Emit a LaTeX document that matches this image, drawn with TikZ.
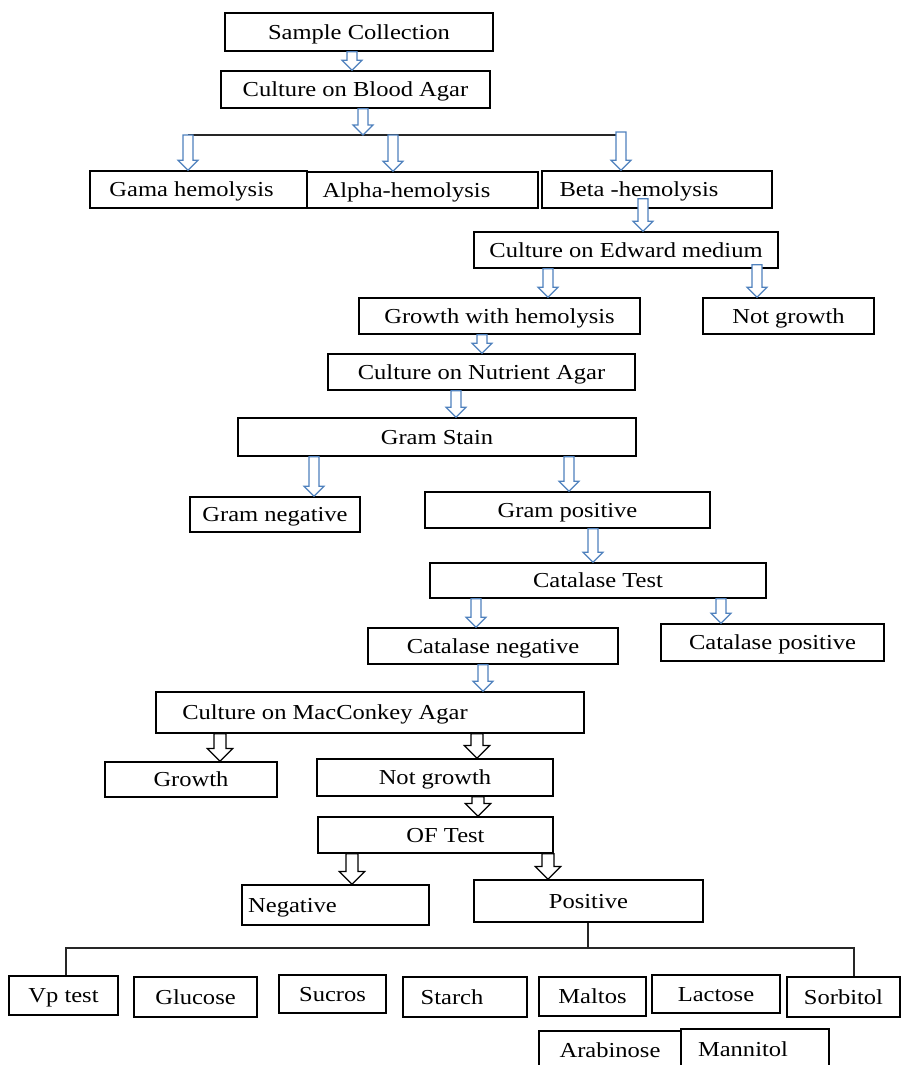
\documentclass[tikz,border=0pt]{standalone}
\usepackage{fontspec}
\setmainfont{Liberation Serif}[FakeStretch=1.15]
\usetikzlibrary{calc}
\definecolor{arrblue}{RGB}{79,129,189}
\tikzset{
  box/.style={draw, line width=1.2pt, fill=white, inner sep=0pt, text height=10.6pt, text depth=0pt, font=\fontsize{16}{19}\selectfont},
  bluearr/.style={draw=arrblue, line width=0.9pt, fill=white},
  blackarr/.style={draw=black, line width=0.9pt, fill=white},
  link/.style={draw=black!85, line width=1.2pt}
}
\newcommand\bx[7][0pt]{\node[box, minimum width={0.75pt*(#5-#3)}, minimum height={0.75pt*(#6-#4)}] (#2) at ({(#3+#5)/2},{(#4+#6)/2}) {\hspace*{#1}#7};}
\newcommand\blockarr[5]{\draw[#1] let \p1=(#2), \p2=(#3) in (\x1-#4,\y1) -- (\x1-#4,\y2+#5) -- (\x1-#5,\y2+#5) -- (\x1,\y2) -- (\x1+#5,\y2+#5) -- (\x1+#4,\y2+#5) -- (\x1+#4,\y1) -- cycle;}
\newcommand\barr[2]{\blockarr{bluearr}{#1}{#2}{3.75pt}{7.5pt}}
\newcommand\karr[2]{\blockarr{blackarr}{#1}{#2}{4.5pt}{9.5pt}}
\begin{document}
\begin{tikzpicture}[x=0.75pt,y=-0.75pt]
\useasboundingbox (0,0) rectangle (901,1065);
\clip (0,0) rectangle (901,1065);
% boxes
\bx{sample}{225}{13}{493}{51}{Sample Collection}
\bx{blood}{221}{71}{490}{108}{Culture on Blood Agar}
\bx[-10.5pt]{gama}{90}{171}{307}{208}{Gama hemolysis}
\bx[-24pt]{alpha}{307}{172}{538}{208}{Alpha-hemolysis}
\bx[-27pt]{beta}{542}{171}{772}{208}{Beta -hemolysis}
\bx{edward}{474}{232}{778}{268}{Culture on Edward medium}
\bx{gwh}{359}{298}{640}{334}{Growth with hemolysis}
\bx{ngone}{703}{298}{874}{334}{Not growth}
\bx{nutrient}{328}{354}{635}{390}{Culture on Nutrient Agar}
\bx{gram}{238}{418}{636}{456}{Gram Stain}
\bx{gneg}{190}{497}{360}{532}{Gram negative}
\bx{gpos}{425}{492}{710}{528}{Gram positive}
\bx{catalase}{430}{563}{766}{598}{Catalase Test}
\bx{cneg}{368}{628}{618}{664}{Catalase negative}
\bx{cpos}{661}{624}{884}{661}{Catalase positive}
\bx[-67.5pt]{mac}{156}{692}{584}{733}{Culture on MacConkey Agar}
\bx{growth}{105}{762}{277}{797}{Growth}
\bx{ngtwo}{317}{759}{553}{796}{Not growth}
\bx[15pt]{of}{318}{817}{553}{853}{OF Test}
\bx[-64.5pt]{neg}{242}{885}{429}{925}{Negative}
\bx{pos}{474}{880}{703}{922}{Positive}
\bx{vp}{9}{976}{118}{1015}{Vp test}
\bx{glu}{134}{977}{257}{1017}{Glucose}
\bx{suc}{279}{975}{386}{1013}{Sucros}
\bx[-19.5pt]{sta}{403}{977}{527}{1017}{Starch}
\bx{mal}{539}{977}{646}{1016}{Maltos}
\bx{lac}{652}{975}{780}{1013}{Lactose}
\bx{sor}{787}{977}{900}{1017}{Sorbitol}
\bx{ara}{539}{1031}{681}{1070}{Arabinose}
\bx[-18pt]{man}{681}{1029}{829}{1070}{Mannitol}
% split under blood agar
\coordinate (split) at (363,135);
\draw[link] (split -| 188,0) -- (split -| 621,0);
% blue arrows
\barr{sample.south -| 352,0}{blood.north -| 352,0}
\barr{blood.south -| 363,0}{split}
\barr{split -| 188,0}{gama.north -| 188,0}
\barr{split -| 393,0}{alpha.north -| 393,0}
\barr{$(split -| 621,0)+(0,-3)$}{beta.north -| 621,0}
\barr{$(beta.south -| 643,0)+(0,-10)$}{edward.north -| 643,0}
\barr{edward.south -| 548,0}{gwh.north -| 548,0}
\barr{$(edward.south -| 757,0)+(0,-4)$}{ngone.north -| 757,0}
\barr{gwh.south -| 482,0}{nutrient.north -| 482,0}
\barr{nutrient.south -| 456,0}{gram.north -| 456,0}
\barr{gram.south -| 314,0}{gneg.north -| 314,0}
\barr{gram.south -| 569,0}{gpos.north -| 569,0}
\barr{gpos.south -| 593,0}{catalase.north -| 593,0}
\barr{catalase.south -| 476,0}{cneg.north -| 476,0}
\barr{catalase.south -| 721,0}{cpos.north -| 721,0}
\barr{cneg.south -| 483,0}{mac.north -| 483,0}
% black arrows
\karr{mac.south -| 220,0}{growth.north -| 220,0}
\karr{mac.south -| 477,0}{ngtwo.north -| 477,0}
\karr{ngtwo.south -| 478,0}{of.north -| 478,0}
\karr{of.south -| 352,0}{neg.north -| 352,0}
\karr{of.south -| 548,0}{pos.north -| 548,0}
% positive bus
\coordinate (bus) at (588,948);
\draw[link] (pos.south -| bus) -- (bus);
\draw[link] (bus) -| (vp.north -| 66,0);
\draw[link] (bus) -| (sor.north -| 854,0);
\end{tikzpicture}
\end{document}
